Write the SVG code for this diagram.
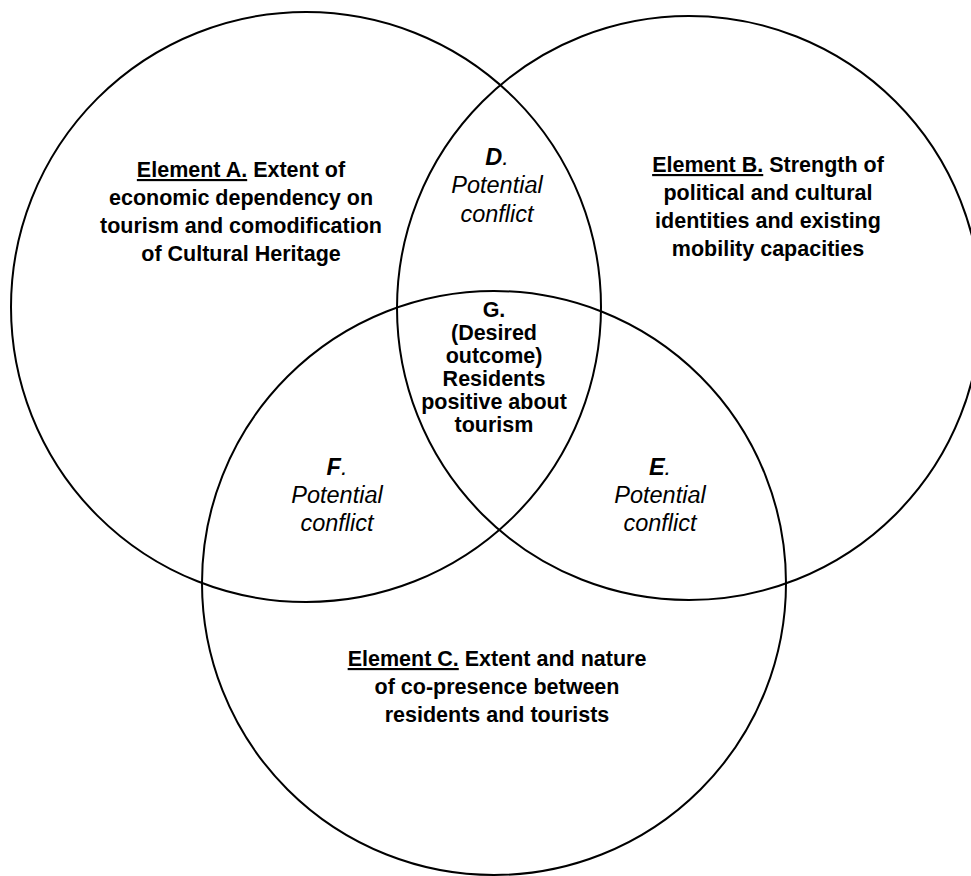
<svg xmlns="http://www.w3.org/2000/svg" width="971" height="876" viewBox="0 0 971 876">
  <style>
    .ring { fill: none; stroke: #000; stroke-width: 2; }
    .b { font-family: "Liberation Sans", Arial, sans-serif; font-weight: bold; font-size: 21.5px; fill: #000; text-anchor: middle; }
    .i { font-family: "Liberation Sans", Arial, sans-serif; font-style: italic; font-size: 23.5px; fill: #000; text-anchor: middle; }
    .u { text-decoration: underline; }
  </style>
  <rect width="971" height="876" fill="#fff"/>
  <g id="circles">
    <circle id="circle-a" class="ring" cx="306" cy="307" r="295"/>
    <circle id="circle-b" class="ring" cx="689" cy="308" r="292"/>
    <circle id="circle-c" class="ring" cx="494" cy="583" r="292"/>
  </g>
  <g id="element-a">
    <text class="b" x="241" y="177"><tspan class="u">Element A.</tspan> Extent of</text>
    <text class="b" x="241" y="205">economic dependency on</text>
    <text class="b" x="241" y="233">tourism and comodification</text>
    <text class="b" x="241" y="261">of Cultural Heritage</text>
  </g>
  <g id="element-b">
    <text class="b" x="768" y="172"><tspan class="u">Element B.</tspan> Strength of</text>
    <text class="b" x="768" y="200">political and cultural</text>
    <text class="b" x="768" y="228">identities and existing</text>
    <text class="b" x="768" y="256">mobility capacities</text>
  </g>
  <g id="element-c">
    <text class="b" x="497" y="666"><tspan class="u">Element C.</tspan> Extent and nature</text>
    <text class="b" x="497" y="694">of co-presence between</text>
    <text class="b" x="497" y="722">residents and tourists</text>
  </g>
  <g id="region-d">
    <text class="i" x="497" y="165"><tspan font-weight="bold">D</tspan>.</text>
    <text class="i" x="497" y="193">Potential</text>
    <text class="i" x="497" y="222">conflict</text>
  </g>
  <g id="region-e">
    <text class="i" x="660" y="475"><tspan font-weight="bold">E</tspan>.</text>
    <text class="i" x="660" y="503">Potential</text>
    <text class="i" x="660" y="531">conflict</text>
  </g>
  <g id="region-f">
    <text class="i" x="337" y="475"><tspan font-weight="bold">F</tspan>.</text>
    <text class="i" x="337" y="503">Potential</text>
    <text class="i" x="337" y="531">conflict</text>
  </g>
  <g id="region-g">
    <text class="b" x="494" y="317">G.</text>
    <text class="b" x="494" y="340">(Desired</text>
    <text class="b" x="494" y="363">outcome)</text>
    <text class="b" x="494" y="386">Residents</text>
    <text class="b" x="494" y="409">positive about</text>
    <text class="b" x="494" y="432">tourism</text>
  </g>
</svg>
